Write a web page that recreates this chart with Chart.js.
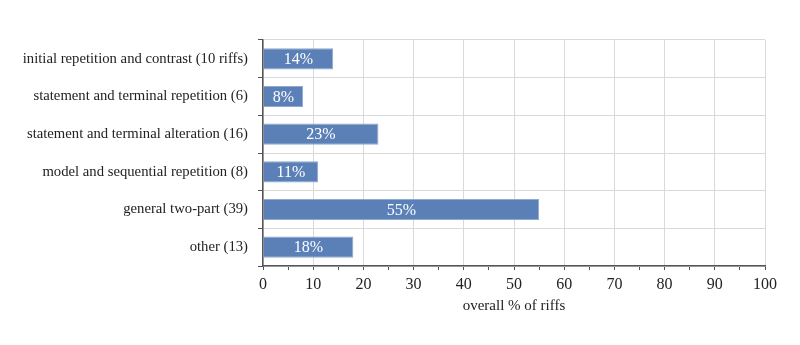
<!DOCTYPE html>
<html>
<head>
<meta charset="utf-8">
<script src="https://cdn.jsdelivr.net/npm/chart.js@4"></script>
<style>
  html, body { margin: 0; padding: 0; background: #fff; }
  #wrap { width: 800px; height: 345px; }
</style>
</head>
<body>
<div id="wrap"><canvas id="riff-chart"></canvas></div>
<script>
const categories = [
  'initial repetition and contrast (10 riffs)',
  'statement and terminal repetition (6)',
  'statement and terminal alteration (16)',
  'model and sequential repetition (8)',
  'general two-part (39)',
  'other (13)'
];
const percentages = [14, 8, 23, 11, 55, 18];
const xTitle = 'overall % of riffs';

const serif = "'Liberation Serif', 'DejaVu Serif', serif";

// white % labels in the middle of each bar
const barLabels = {
  id: 'barLabels',
  afterDatasetsDraw(chart) {
    const c = chart.ctx;
    const meta = chart.getDatasetMeta(0);
    c.save();
    c.font = '16px ' + serif;
    c.fillStyle = '#ffffff';
    c.textAlign = 'center';
    c.textBaseline = 'middle';
    meta.data.forEach((bar, i) => {
      const mid = (bar.x + bar.base) / 2;
      c.fillText(percentages[i] + '%', mid, bar.y + 1);
    });
    c.restore();
  }
};

const ctx = document.getElementById('riff-chart').getContext('2d');
new Chart(ctx, {
  type: 'bar',
  data: {
    labels: categories,
    datasets: [{
      data: percentages,
      backgroundColor: '#5b80b7',
      borderColor: '#8fa9cf',
      borderWidth: 1,
      barPercentage: 0.56,
      categoryPercentage: 1
    }]
  },
  options: {
    indexAxis: 'y',
    responsive: true,
    maintainAspectRatio: false,
    animation: false,
    layout: { padding: { top: 40, right: 35, left: 0, bottom: 26 } },
    plugins: {
      legend: { display: false },
      tooltip: { enabled: false }
    },
    scales: {
      x: {
        min: 0,
        max: 100,
        ticks: {
          stepSize: 5,
          autoSkip: false,
          maxRotation: 0,
          color: '#222',
          font: { family: serif, size: 16 },
          padding: 5,
          callback: v => (v % 10 === 0 ? v : '')
        },
        grid: {
          color: ctx => (ctx.tick && ctx.tick.value % 10 === 0 ? '#d9d9d9' : 'rgba(0,0,0,0)'),
          tickColor: '#555',
          tickLength: 4,
          lineWidth: 1
        },
        border: { color: '#555', width: 1.5 },
        title: {
          display: true,
          text: xTitle,
          color: '#222',
          font: { family: serif, size: 15 },
          padding: { top: 4 }
        },
        afterFit: s => { s.height = 53; }
      },
      y: {
        ticks: {
          color: '#222',
          font: { family: serif, size: 14.7 },
          padding: 10
        },
        grid: {
          offset: true,
          color: '#d9d9d9',
          tickColor: '#555',
          tickLength: 5
        },
        border: { color: '#555', width: 1.5 },
        afterFit: s => { s.width = 263; }
      }
    }
  },
  plugins: [barLabels]
});
</script>
</body>
</html>
